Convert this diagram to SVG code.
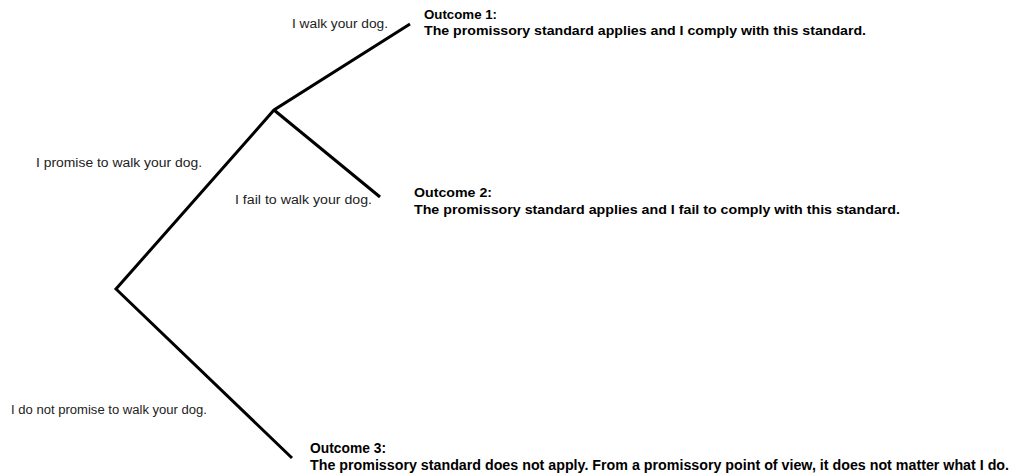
<svg xmlns="http://www.w3.org/2000/svg" width="1011" height="476" viewBox="0 0 1011 476">
  <style>
    .edge { stroke: #000; stroke-width: 3; fill: none; stroke-linecap: butt; stroke-linejoin: miter; }
    .lbl { font-family: "Liberation Sans", Arial, sans-serif; font-size: 12.5px; fill: #222; }
    .out { font-family: "Liberation Sans", Arial, sans-serif; font-size: 12.5px; font-weight: bold; fill: #000; }
    .out3 { font-family: "Liberation Sans", Arial, sans-serif; font-size: 14px; font-weight: bold; fill: #000; }
  </style>
  <rect width="1011" height="476" fill="#fff"/>
  <g id="connectors">
    <polyline class="edge" points="292,458 116,289 274,110 410,24"/>
    <line class="edge" x1="274" y1="110" x2="380" y2="197"/>
  </g>
  <g id="label-promise">
    <text class="lbl" x="36" y="167" textLength="166" lengthAdjust="spacingAndGlyphs">I promise to walk your dog.</text>
  </g>
  <g id="label-walk">
    <text class="lbl" x="292" y="28" textLength="96" lengthAdjust="spacingAndGlyphs">I walk your dog.</text>
  </g>
  <g id="label-fail">
    <text class="lbl" x="235" y="204" textLength="137" lengthAdjust="spacingAndGlyphs">I fail to walk your dog.</text>
  </g>
  <g id="label-nopromise">
    <text class="lbl" x="11" y="414" textLength="196" lengthAdjust="spacingAndGlyphs">I do not promise to walk your dog.</text>
  </g>
  <g id="outcome1">
    <text class="out" x="424" y="19" textLength="73" lengthAdjust="spacingAndGlyphs">Outcome 1:</text>
    <text class="out" x="424" y="35" textLength="442" lengthAdjust="spacingAndGlyphs">The promissory standard applies and I comply with this standard.</text>
  </g>
  <g id="outcome2">
    <text class="out" x="414" y="197" textLength="78" lengthAdjust="spacingAndGlyphs">Outcome 2:</text>
    <text class="out" x="414" y="214" textLength="486" lengthAdjust="spacingAndGlyphs">The promissory standard applies and I fail to comply with this standard.</text>
  </g>
  <g id="outcome3">
    <text class="out3" x="310" y="453" textLength="76" lengthAdjust="spacingAndGlyphs">Outcome 3:</text>
    <text class="out3" x="310" y="470" textLength="699" lengthAdjust="spacingAndGlyphs">The promissory standard does not apply. From a promissory point of view, it does not matter what I do.</text>
  </g>
</svg>
